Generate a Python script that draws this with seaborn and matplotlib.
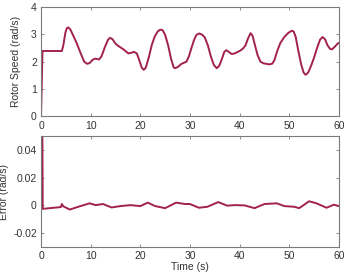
import numpy as np
import pandas as pd
import matplotlib
matplotlib.use("Agg")
import matplotlib.pyplot as plt
import seaborn as sns

sns.set_theme(style="white")
plt.rcParams['font.family'] = ['Liberation Sans', 'DejaVu Sans']

# rotor speed
speed_t = [0, 0.3, 4.2, 4.5, 4.9, 5.2, 5.5, 5.9, 6.5, 7.2, 8.0, 8.7, 9.3, 9.8, 10.4,
           10.9, 11.7, 12.2, 12.9, 13.5, 13.9, 14.4, 15.0, 15.6, 16.6, 17.6, 18.3,
           18.7, 19.3, 19.8, 20.3, 20.7, 21.1, 21.7, 22.3, 22.9, 23.5, 24.0, 24.5,
           25.0, 25.6, 26.2, 26.7, 27.0, 27.5, 28.3, 29.3, 29.8, 30.3, 30.8, 31.3,
           31.9, 32.5, 33.0, 33.6, 34.2, 34.8, 35.4, 35.9, 36.4, 36.9, 37.3, 37.8,
           38.4, 39.0, 40.1, 40.7, 41.2, 41.7, 42.2, 42.6, 43.1, 43.6, 44.2, 44.8,
           46.0, 46.6, 47.0, 47.6, 48.2, 49.0, 49.8, 50.5, 50.9, 51.3, 51.8, 52.4,
           52.9, 53.3, 53.8, 54.4, 55.0, 55.6, 56.2, 56.7, 57.2, 57.7, 58.2, 58.6,
           59.2, 59.7, 60.0]
speed = [0, 2.39, 2.39, 2.6, 3.05, 3.22, 3.25, 3.18, 2.95, 2.67, 2.3, 2.0, 1.92, 1.95, 2.07,
         2.11, 2.08, 2.2, 2.55, 2.8, 2.87, 2.82, 2.66, 2.57, 2.45, 2.30, 2.33,
         2.36, 2.3, 2.05, 1.78, 1.70, 1.78, 2.15, 2.6, 2.92, 3.1, 3.17, 3.15,
         2.98, 2.6, 2.1, 1.8, 1.76, 1.8, 1.92, 2.0, 2.2, 2.5, 2.78, 2.98,
         3.03, 2.98, 2.88, 2.6, 2.2, 1.88, 1.76, 1.85, 2.08, 2.35, 2.42, 2.36,
         2.28, 2.3, 2.4, 2.48, 2.6, 2.85, 3.04, 2.95, 2.6, 2.25, 2.0, 1.94,
         1.90, 1.93, 2.05, 2.4, 2.68, 2.9, 3.05, 3.13, 3.1, 2.9, 2.42, 1.9,
         1.6, 1.52, 1.6, 1.85, 2.15, 2.5, 2.8, 2.9, 2.82, 2.6, 2.47, 2.45,
         2.55, 2.65, 2.69]

# tracking error
err_t = [0, 0.05, 0.35, 4.0, 4.2, 4.5, 5.8, 7.5, 9.8, 11.0, 12.5, 14.2, 16.0, 18.0,
         20.0, 21.5, 23.0, 25.0, 27.2, 29.0, 30.0, 31.8, 33.5, 35.7, 37.5, 39.0,
         41.0, 43.0, 45.0, 47.5, 49.0, 51.0, 52.0, 54.0, 55.5, 57.5, 59.0, 60.0]
err = [0.0, 0.2, -0.0025, -0.0012, 0.001, -0.0007, -0.003, -0.001, 0.0015, 0.0002,
       0.001, -0.0015, -0.0005, 0.0002, -0.0005, 0.002, -0.0005, -0.002, 0.002, 0.001,
       0.001, -0.0017, -0.001, 0.0024, -0.0002, 0.0002, 0.0, -0.002, 0.001, 0.0015,
       -0.0005, -0.001, -0.002, 0.003, 0.0015, -0.0017, 0.0005, -0.0005]

line_col = "#a2224a"
spine_col = "#7a7a7a"

fig = plt.figure(figsize=(3.46, 2.72), dpi=100)
ax1 = fig.add_axes([0.1185, 0.572, 0.861, 0.4026])
ax2 = fig.add_axes([0.1185, 0.0926, 0.861, 0.406])

sns.lineplot(x=speed_t, y=speed, ax=ax1, color=line_col, linewidth=1.4)
sns.lineplot(x=err_t, y=err, ax=ax2, color=line_col, linewidth=1.4)

ax1.set_xlim(0, 60)
ax1.set_ylim(0, 4)
ax1.set_xticks([0, 10, 20, 30, 40, 50, 60])
ax1.set_yticks([0, 1, 2, 3, 4])
ax1.set_ylabel("Rotor Speed (rad/s)", fontsize=7.5, color="#333333", labelpad=7.5)

ax2.set_xlim(0, 60)
ax2.set_ylim(-0.03, 0.05)
ax2.set_xticks([0, 10, 20, 30, 40, 50, 60])
ax2.set_yticks([-0.02, 0, 0.02, 0.04])
ax2.set_yticklabels(["-0.02", "0", "0.02", "0.04"])
ax2.set_xlabel("Time (s)", fontsize=7.5, color="#333333", labelpad=1)
ax2.set_ylabel("Error (rad/s)", fontsize=7.5, color="#333333", labelpad=3)

for ax in (ax1, ax2):
    for s in ax.spines.values():
        s.set_color(spine_col)
        s.set_linewidth(0.8)
    ax.tick_params(direction="in", length=2.5, width=0.6, colors=spine_col,
                   labelcolor="#333333", labelsize=7.5, top=True, right=True,
                   left=True, bottom=True, pad=3)

fig.savefig("out.png", dpi=100)
